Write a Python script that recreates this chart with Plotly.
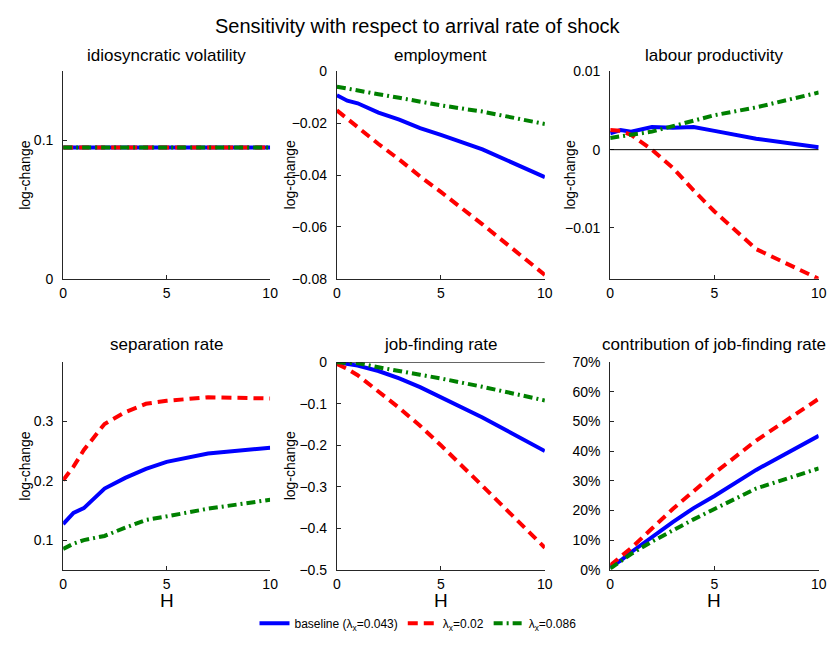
import plotly.graph_objects as go

# ---------------- data ----------------
H = [0, 0.5, 1, 2, 3, 4, 5, 7, 10]

series_names = ["baseline (λ<sub>x</sub>=0.043)", "λ<sub>x</sub>=0.02", "λ<sub>x</sub>=0.086"]

vol_base = [0.095, 0.095, 0.095, 0.095, 0.095, 0.095, 0.095, 0.095, 0.095]
vol_low = [0.095, 0.095, 0.095, 0.095, 0.095, 0.095, 0.095, 0.095, 0.095]
vol_high = [0.095, 0.095, 0.095, 0.095, 0.095, 0.095, 0.095, 0.095, 0.095]

emp_base = [-0.0092, -0.0113, -0.0123, -0.0159, -0.0186, -0.0219, -0.0245, -0.0301, -0.0408]
emp_low = [-0.0150, -0.0185, -0.0215, -0.0280, -0.0340, -0.0405, -0.0465, -0.0590, -0.0785]
emp_high = [-0.0059, -0.0067, -0.0075, -0.0088, -0.0102, -0.0117, -0.0131, -0.0155, -0.0203]

prod_base = [0.0021, 0.0025, 0.0023, 0.0029, 0.0028, 0.0029, 0.0024, 0.0014, 0.0003]
prod_low = [0.0025, 0.0024, 0.0019, 0.0000, -0.0023, -0.0052, -0.0079, -0.0127, -0.0165]
prod_high = [0.0015, 0.0017, 0.0019, 0.0023, 0.0030, 0.0037, 0.0044, 0.0054, 0.0073]

sep_base = [0.127, 0.146, 0.154, 0.187, 0.205, 0.220, 0.232, 0.246, 0.256]
sep_low = [0.201, 0.224, 0.252, 0.296, 0.316, 0.330, 0.335, 0.341, 0.339]
sep_high = [0.085, 0.094, 0.100, 0.107, 0.121, 0.134, 0.140, 0.153, 0.168]

jf_base = [0.000, -0.003, -0.008, -0.021, -0.039, -0.060, -0.084, -0.133, -0.214]
jf_low = [-0.004, -0.016, -0.031, -0.070, -0.110, -0.153, -0.200, -0.298, -0.447]
jf_high = [0.000, -0.001, -0.002, -0.012, -0.022, -0.030, -0.039, -0.059, -0.092]

contrib_base = [0.009, 0.031, 0.059, 0.111, 0.161, 0.208, 0.249, 0.337, 0.452]
contrib_low = [0.015, 0.044, 0.073, 0.139, 0.205, 0.265, 0.326, 0.436, 0.577]
contrib_high = [0.004, 0.028, 0.053, 0.095, 0.133, 0.170, 0.205, 0.274, 0.342]

panel_titles = ["idiosyncratic volatility", "employment", "labour productivity",
                "separation rate", "job-finding rate", "contribution of job-finding rate"]
panel_data = [
    (vol_base, vol_low, vol_high),
    (emp_base, emp_low, emp_high),
    (prod_base, prod_low, prod_high),
    (sep_base, sep_low, sep_high),
    (jf_base, jf_low, jf_high),
    (contrib_base, contrib_low, contrib_high),
]
y_ranges = [[0, 0.15], [-0.08, 0], [-0.0165, 0.01], [0.05, 0.4], [-0.5, 0], [0, 0.7]]
y_ticks = [[0, 0.1], [-0.08, -0.06, -0.04, -0.02, 0], [-0.01, 0, 0.01],
           [0.1, 0.2, 0.3], [-0.5, -0.4, -0.3, -0.2, -0.1, 0],
           [0, 0.1, 0.2, 0.3, 0.4, 0.5, 0.6, 0.7]]
x_ticks = [0, 5, 10]

# ---------------- layout geometry ----------------
W, Hpx = 840, 646
col_px = [(60, 270), (337.7, 548.7), (615, 826.5)]
row_px = [(65, 277.7), (363.3, 576)]

colors = ["#0000ff", "#ff0000", "#008000"]
dashes = ["solid", "10px,6px", "9px,4px,2px,4px"]
FONT = "Liberation Sans, Arial, Helvetica, sans-serif"
AX = "#262626"

fig = go.Figure()
annotations = []
shapes = []

for i in range(6):
    r, c = divmod(i, 3)
    n = i + 1
    xa = "x" if n == 1 else f"x{n}"
    ya = "y" if n == 1 else f"y{n}"
    for k in range(3):
        fig.add_trace(go.Scatter(
            x=H, y=panel_data[i][k], mode="lines",
            line=dict(color=colors[k], width=4, dash=dashes[k]),
            name=series_names[k], legendgroup=str(k), showlegend=(i == 0),
            xaxis=xa, yaxis=ya, hoverinfo="skip"))
    x0, x1 = col_px[c]
    y0, y1 = row_px[r]
    xdom = [x0 / W, x1 / W]
    ydom = [1 - y1 / Hpx, 1 - y0 / Hpx]
    xkey = "xaxis" if n == 1 else f"xaxis{n}"
    ykey = "yaxis" if n == 1 else f"yaxis{n}"
    fig.layout[xkey] = dict(
        domain=xdom, range=[0, 10], anchor=ya, tickvals=x_ticks,
        showline=True, linecolor=AX, linewidth=1, ticks="inside", ticklen=4,
        tickcolor=AX, showgrid=False, zeroline=False, ticklabelstandoff=1,
        tickfont=dict(size=14, color="black", family=FONT))
    yk = dict(
        domain=ydom, range=y_ranges[i], anchor=xa, tickvals=y_ticks[i],
        showline=True, linecolor=AX, linewidth=1, ticks="inside", ticklen=4,
        tickcolor=AX, showgrid=False, zeroline=False, ticklabelstandoff=6,
        tickfont=dict(size=14, color="black", family=FONT))
    if i == 5:
        yk["tickformat"] = ".0%"
    fig.layout[ykey] = yk

    # subplot title
    ty = 49 if r == 0 else 345
    annotations.append(dict(
        text=panel_titles[i], x=(x0 + x1) / 2 / W, y=1 - ty / Hpx,
        xref="paper", yref="paper", xanchor="center", yanchor="middle",
        showarrow=False, font=dict(size=17, color="black", family=FONT)))
    # y label
    if i != 5:
        lx = [21, 290.5, 574.7][c]
        annotations.append(dict(
            text="log-change", x=lx / W, y=1 - ((y0 + y1) / 2) / Hpx,
            xref="paper", yref="paper", xanchor="center", yanchor="middle",
            textangle=-90, showarrow=False,
            font=dict(size=14, color="black", family=FONT)))
    # x label
    if r == 1:
        annotations.append(dict(
            text="H", x=(x0 + x1) / 2 / W, y=1 - 608 / Hpx,
            xref="paper", yref="paper", xanchor="center", yanchor="middle",
            showarrow=False, font=dict(size=19, color="black", family=FONT)))
    # zero reference lines
    if i in (2, 4):
        shapes.append(dict(type="line", xref=xa, yref=ya, x0=0, x1=10, y0=0, y1=0,
                           line=dict(color="black", width=1)))

annotations.append(dict(
    text="Sensitivity with respect to arrival rate of shock",
    x=0.5, y=1 - 18 / Hpx, xref="paper", yref="paper",
    xanchor="center", yanchor="middle", showarrow=False,
    font=dict(size=20, color="black", family=FONT)))

fig.update_layout(
    width=W, height=Hpx,
    margin=dict(l=0, r=0, t=0, b=0),
    paper_bgcolor="white", plot_bgcolor="white",
    annotations=annotations, shapes=shapes,
    font=dict(family=FONT, color="black"),
    legend=dict(orientation="h", x=0.5, xanchor="center",
                y=1 - 631 / Hpx, yanchor="middle",
                font=dict(size=12, color="black", family=FONT),
                bgcolor="rgba(0,0,0,0)"),
)

fig.write_html("out.html")
